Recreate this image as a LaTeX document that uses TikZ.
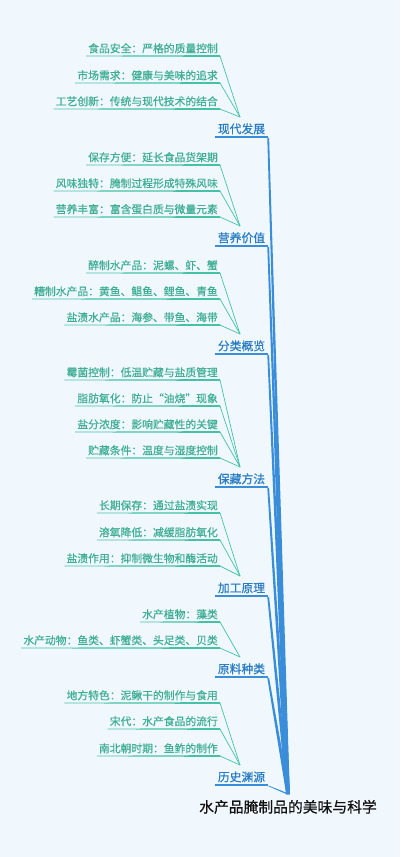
\documentclass[tikz,border=0pt]{standalone}
\usepackage{fontspec}
\newfontfamily\cjk[FakeBold=0.6]{Noto Sans CJK SC}
\usetikzlibrary{calc}
\definecolor{bgc}{HTML}{F0F8FE}
\definecolor{leaftxt}{HTML}{3FAE95}
\definecolor{leafline}{HTML}{45C2A6}
\definecolor{brtxt}{HTML}{2A7DC2}
\definecolor{brline}{HTML}{3A8DD8}
\definecolor{roottxt}{HTML}{111111}
\tikzset{
  leaf/.style={anchor=south east, inner xsep=2pt, inner ysep=2.5pt, text=leaftxt, font=\cjk\fontsize{10.8}{12}\selectfont},
  branch/.style={anchor=south, minimum width=53pt, inner xsep=0pt, inner ysep=2.5pt, text=brtxt, font=\cjk\fontsize{11.8}{13}\selectfont},
  rootnode/.style={anchor=base, inner sep=0pt, text=roottxt, font=\cjk\fontsize{14.8}{16}\selectfont},
  leafunder/.style={fill=leafline},
  leafconn/.style={draw=leafline, line width=0.7pt},
  brunder/.style={draw=brline, line width=1.6pt},
}
\newcommand{\leafnode}[4]{% name, y, conv, text
  \node[leaf] (#1) at (220,#2) {#4};
  \fill[leafunder] ($(#1.south west)+(0,-0.35)$) -- ($(#1.south east)+(0,-0.9)$) -- ($(#1.south east)+(0,0.9)$) -- ($(#1.south west)+(0,0.35)$) -- cycle;
  \draw[leafconn] (#1.south east) -- (#3);
}
\newcommand{\brnode}[3]{% name, y, text
  \node[branch] (#1) at (241.5,#2) {#3};
  \coordinate (#1c) at (240,#2-20);
  \draw[brunder] (#1.south west) -- (#1.south east);
  \fill[brline] ($(#1.south east)+(-0.9,0.8)$) -- ($(#1.south east)+(0.9,0.8)$) -- ($(rp)+(1.8,0)$) -- ($(rp)+(-1.8,0)$) -- cycle;
}
\begin{document}
\begin{tikzpicture}[x=1pt,y=-1pt]
\fill[bgc] (0,0) rectangle (400,857);
\useasboundingbox (0,0) rectangle (400,857);
\coordinate (rp) at (288,794);
\node[rootnode] (root) at (288,812.5) {水产品腌制品的美味与科学};

\brnode{b1}{137}{现代发展}
\leafnode{l11}{56}{b1c}{食品安全：严格的质量控制}
\leafnode{l12}{83}{b1c}{市场需求：健康与美味的追求}
\leafnode{l13}{109}{b1c}{工艺创新：传统与现代技术的结合}

\brnode{b2}{246}{营养价值}
\leafnode{l21}{165}{b2c}{保存方便：延长食品货架期}
\leafnode{l22}{191}{b2c}{风味独特：腌制过程形成特殊风味}
\leafnode{l23}{217}{b2c}{营养丰富：富含蛋白质与微量元素}

\brnode{b3}{354}{分类概览}
\leafnode{l31}{273}{b3c}{醉制水产品：泥螺、虾、蟹}
\leafnode{l32}{299}{b3c}{糟制水产品：黄鱼、鲳鱼、鲤鱼、青鱼}
\leafnode{l33}{325}{b3c}{盐渍水产品：海参、带鱼、海带}

\brnode{b4}{487}{保藏方法}
\leafnode{l41}{380}{b4c}{霉菌控制：低温贮藏与盐质管理}
\leafnode{l42}{406}{b4c}{脂肪氧化：防止“油烧”现象}
\leafnode{l43}{432}{b4c}{盐分浓度：影响贮藏性的关键}
\leafnode{l44}{458}{b4c}{贮藏条件：温度与湿度控制}

\brnode{b5}{596}{加工原理}
\leafnode{l51}{513}{b5c}{长期保存：通过盐渍实现}
\leafnode{l52}{540}{b5c}{溶氧降低：减缓脂肪氧化}
\leafnode{l53}{566}{b5c}{盐渍作用：抑制微生物和酶活动}

\brnode{b6}{677}{原料种类}
\leafnode{l61}{622}{b6c}{水产植物：藻类}
\leafnode{l62}{648}{b6c}{水产动物：鱼类、虾蟹类、头足类、贝类}

\brnode{b7}{785}{历史渊源}
\leafnode{l71}{703}{b7c}{地方特色：泥鳅干的制作与食用}
\leafnode{l72}{729}{b7c}{宋代：水产食品的流行}
\leafnode{l73}{756}{b7c}{南北朝时期：鱼鲊的制作}
\end{tikzpicture}
\end{document}
